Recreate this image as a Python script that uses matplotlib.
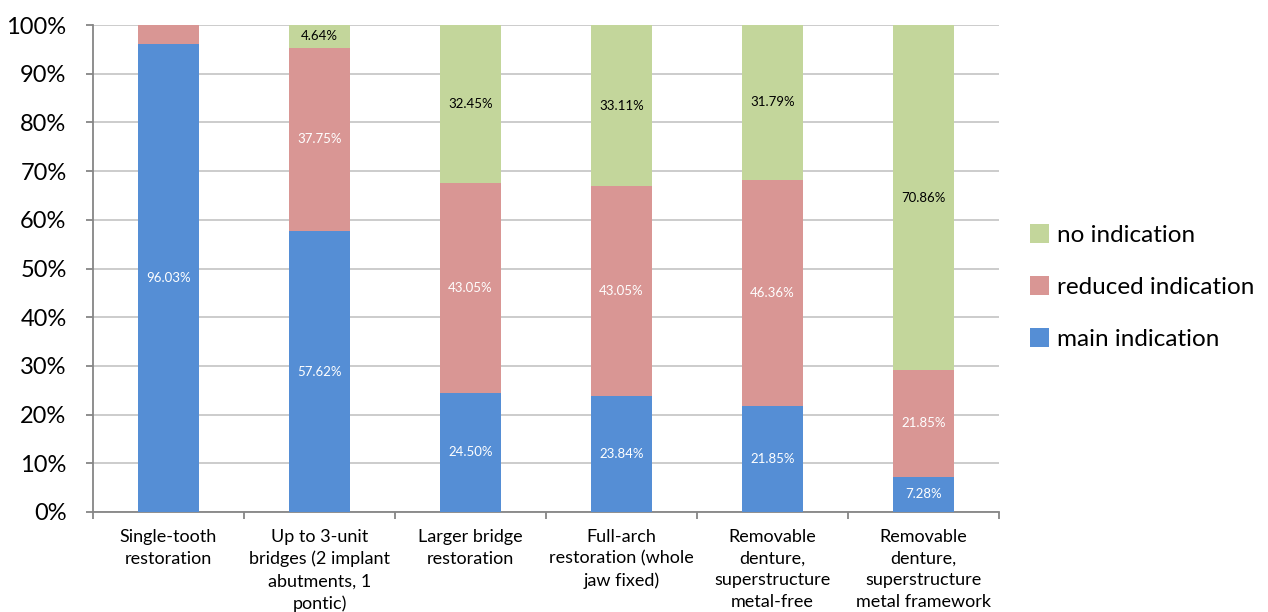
import matplotlib
matplotlib.use("Agg")
import matplotlib.pyplot as plt
import numpy as np
from matplotlib.patches import Patch

plt.rcParams['font.family'] = ['Lato', 'DejaVu Sans']

categories = [
    "Single-tooth\nrestoration",
    "Up to 3-unit\nbridges (2 implant\nabutments, 1\npontic)",
    "Larger bridge\nrestoration",
    "Full-arch\nrestoration (whole\njaw fixed)",
    "Removable\ndenture,\nsuperstructure\nmetal-free",
    "Removable\ndenture,\nsuperstructure\nmetal framework",
]
main_indication = [96.03, 57.62, 24.50, 23.84, 21.85, 7.28]
reduced_indication = [3.97, 37.75, 43.05, 43.05, 46.36, 21.85]
no_indication = [0.00, 4.64, 32.45, 33.11, 31.79, 70.86]
series_names = ["main indication", "reduced indication", "no indication"]
yticks = [0, 10, 20, 30, 40, 50, 60, 70, 80, 90, 100]

colors = ["#558ED5", "#D99694", "#C3D69B"]
label_colors = ["white", "white", "black"]

fig = plt.figure(figsize=(12.68, 6.12), dpi=100)
ax = fig.add_axes([93/1268, 1 - 512/612, (999-93)/1268, (512-25)/612])

x = np.arange(len(categories))
bottom = np.zeros(len(categories))
series = [main_indication, reduced_indication, no_indication]
for vals, col, lc in zip(series, colors, label_colors):
    vals = np.array(vals)
    ax.bar(x, vals, bottom=bottom, width=0.40, color=col, zorder=3,
           edgecolor='none')
    for xi, v, b in zip(x, vals, bottom):
        if v >= 4.5:
            ax.text(xi, b + v/2, f"{v:.2f}%", ha='center', va='center',
                    color=lc, fontsize=9.5, zorder=4)
    bottom += vals

ax.set_xlim(-0.5, len(categories) - 0.5)
ax.set_ylim(0, 100)
ax.set_yticks(yticks)
ax.set_yticklabels([f"{t}%" for t in yticks], fontsize=17)
ax.yaxis.grid(True, color="#C8C8C8", linewidth=1.3, zorder=0)
ax.set_axisbelow(True)

ax.set_xticks(x)
ax.set_xticklabels(categories, fontsize=13, linespacing=1.45)
ax.set_xticks(np.arange(-0.5, len(categories)), minor=True)
ax.tick_params(axis='x', which='major', length=0, pad=12)
ax.tick_params(axis='x', which='minor', length=5, color="#868686", width=1.3)
ax.tick_params(axis='y', length=5, color="#868686", width=1.3, pad=14)

for s in ['top', 'right']:
    ax.spines[s].set_visible(False)
for s in ['left', 'bottom']:
    ax.spines[s].set_color("#868686")
    ax.spines[s].set_linewidth(1.3)

handles = [Patch(facecolor=colors[2], label=series_names[2]),
           Patch(facecolor=colors[1], label=series_names[1]),
           Patch(facecolor=colors[0], label=series_names[0])]
fig.legend(handles=handles, loc='center left', bbox_to_anchor=(1008/1268, 1 - 287/612),
           frameon=False, fontsize=17.5, handlelength=0.8, handleheight=0.8,
           handletextpad=0.3, labelspacing=1.25)

fig.savefig("out.png", dpi=100)
